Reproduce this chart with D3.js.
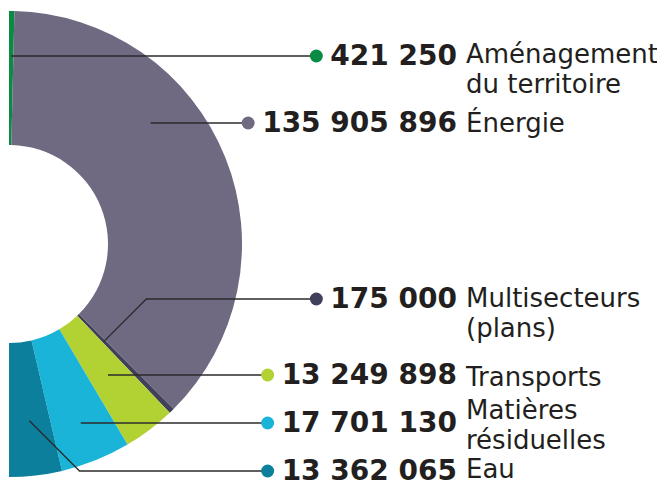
<!DOCTYPE html>
<html>
<head>
<meta charset="utf-8">
<script src="https://cdn.jsdelivr.net/npm/d3@7"></script>
<style>
  body { margin: 0; background: #fff; }
  svg { display: block; }
  .num { font-family: "DejaVu Sans", sans-serif; font-weight: bold; font-size: 28px; fill: #231f20; }
  .lab { font-family: "DejaVu Sans", sans-serif; font-size: 26px; fill: #231f20; }
</style>
</head>
<body>
<svg id="chart" width="657" height="481"></svg>
<script>
// data
const sectors = ["Aménagement du territoire", "Énergie", "Multisecteurs (plans)", "Transports", "Matières résiduelles", "Eau"];
const amounts = [421250, 135905896, 175000, 13249898, 17701130, 13362065];
const labelLines = [["Aménagement", "du territoire"], ["Énergie"], ["Multisecteurs", "(plans)"], ["Transports"], ["Matières", "résiduelles"], ["Eau"]];
const colors = ["#0a8a43", "#6f6a82", "#41405a", "#b2d234", "#19b4d8", "#0b7f9c"];

// layout of the callouts
const rowY = [56, 123, 299, 375, 423, 471];
const leaderR = [null, null, 136, null, null, 178];   // null -> start on row line
const leaderFrac = [0.5, 0.36, 0.5, 0.5, 0.5, 0.5];   // where along the slice the leader starts
const labelDy = [7, 9, 8, 11, -4, 7];

const cx = 9, cy = 244, outerR = 233, innerR = 99;
const numRight = 457, labelX = 466, lineGap = 30;

const svg = d3.select("#chart");
const total = d3.sum(amounts);
// tiny slices are drawn at a visible minimum width
const minShare = total * 0.0075;

const items = sectors.map((s, i) => ({ name: s, value: amounts[i], i: i }));

const pie = d3.pie()
  .sort(null)
  .value(d => Math.max(d.value, minShare))
  .startAngle(0)
  .endAngle(Math.PI);

const arc = d3.arc().innerRadius(innerR).outerRadius(outerR);
const arcs = pie(items);

const g = svg.append("g").attr("transform", "translate(" + cx + "," + cy + ")");
g.selectAll("path")
  .data(arcs)
  .enter().append("path")
  .attr("d", arc)
  .attr("fill", d => colors[d.data.i]);

const fmt = v => d3.format(",")(v).replace(/,/g, " ");

// callouts
arcs.forEach(a => {
  const i = a.data.i;
  const ang = a.startAngle + (a.endAngle - a.startAngle) * leaderFrac[i];
  const y = rowY[i];
  let r = leaderR[i];
  if (r == null) r = (cy - y) / Math.cos(ang);
  const sx = cx + r * Math.sin(ang);
  const sy = cy - r * Math.cos(ang);
  // 45 degree run up to the row, then flat
  const ex = sx + Math.abs(y - sy);

  const num = svg.append("text")
    .attr("class", "num")
    .attr("x", numRight)
    .attr("y", y + 9)
    .attr("text-anchor", "end")
    .text(fmt(a.data.value));
  const box = num.node().getBBox();
  const dotX = box.x - 14;

  svg.insert("path", "text")
    .attr("d", d3.line()([[sx, sy], [ex, y], [dotX, y]]))
    .attr("fill", "none")
    .attr("stroke", "#2b2b2b")
    .attr("stroke-width", 1.3);

  svg.append("circle")
    .attr("cx", dotX)
    .attr("cy", y)
    .attr("r", 6.5)
    .attr("fill", colors[i]);

  labelLines[i].forEach((ln, k) => {
    svg.append("text")
      .attr("class", "lab")
      .attr("x", labelX)
      .attr("y", y + labelDy[i] + k * lineGap)
      .text(ln);
  });
});
</script>
</body>
</html>
